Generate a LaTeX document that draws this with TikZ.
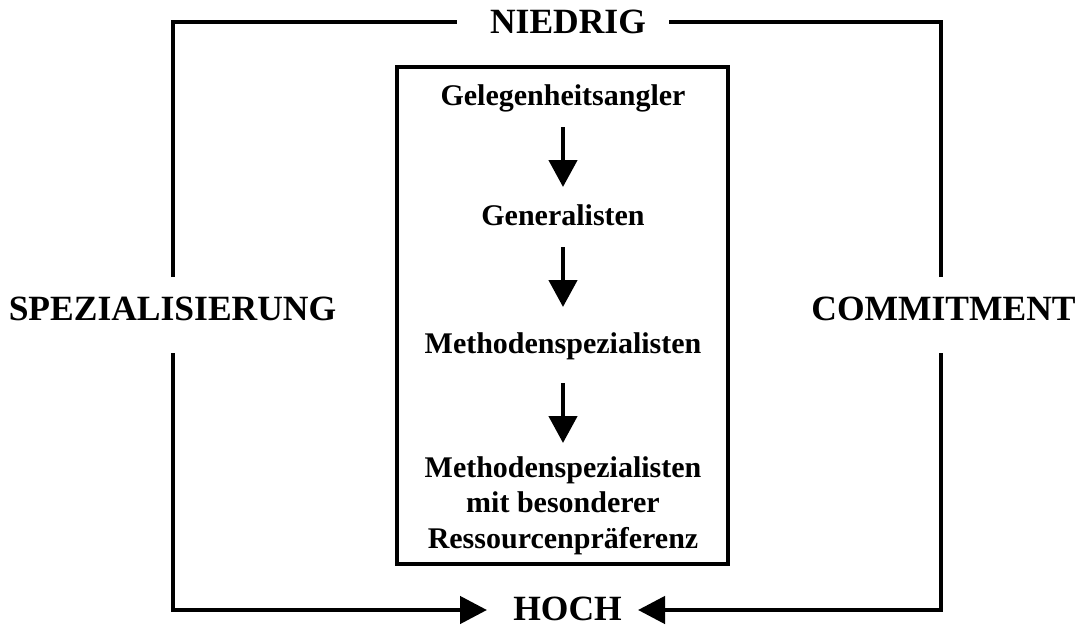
\documentclass[tikz,border=0pt]{standalone}
\usepackage{fontspec}
\setmainfont{Liberation Serif}
\usetikzlibrary{arrows.meta}
\tikzset{
  frameline/.style={line width=4.6pt, line join=miter},
  bigarrow/.style={frameline, -{Triangle[length=27pt,width=27pt]}},
  innerarrow/.style={line width=4.6pt, -{Triangle[length=27pt,width=28pt]}},
  outerlabel/.style={font=\fontsize{35.5}{40}\selectfont\bfseries, inner sep=0pt, anchor=base},
  innerlabel/.style={font=\fontsize{30}{35.5}\selectfont\bfseries, inner sep=0pt, anchor=base},
}
\begin{document}
\begin{tikzpicture}[x=1pt,y=-1pt]
\useasboundingbox (0,0) rectangle (1084,626);
% inner box
\draw[line width=3.2pt] (397,67) rectangle (728,564);
% outer labels
\node[outerlabel] (niedrig) at (568,34) {NIEDRIG};
\node[outerlabel] (hoch) at (567.5,620) {HOCH};
\node[outerlabel] (spez) at (172.5,320) {SPEZIALISIERUNG};
\node[outerlabel] (comm) at (943.5,320) {COMMITMENT};
% frame coordinates
\coordinate (lt1) at (173,277);
\coordinate (ltc) at (173,22);
\coordinate (lte) at (457,22);
\coordinate (lb1) at (173,353);
\coordinate (lbc) at (173,610);
\coordinate (lbe) at (487,610);
\coordinate (rt1) at (941,277);
\coordinate (rtc) at (941,22);
\coordinate (rte) at (669,22);
\coordinate (rb1) at (941,353);
\coordinate (rbc) at (941,610);
\coordinate (rbe) at (638,610);
\draw[frameline] (lt1) -- (ltc) -- (lte);
\draw[frameline] (rt1) -- (rtc) -- (rte);
\draw[bigarrow] (lb1) -- (lbc) -- (lbe);
\draw[bigarrow] (rb1) -- (rbc) -- (rbe);
% inner labels
\node[innerlabel] (g1) at (563,105) {Gelegenheitsangler};
\node[innerlabel] (g2) at (563,225) {Generalisten};
\node[innerlabel] (g3) at (563,353) {Methodenspezialisten};
\node[innerlabel, align=center, anchor=base] (g4) at (563,548) {Methodenspezialisten\\mit besonderer\\Ressourcenpräferenz};
% inner arrows
\coordinate (a1s) at (563,127); \coordinate (a1e) at (563,187);
\coordinate (a2s) at (563,247); \coordinate (a2e) at (563,307);
\coordinate (a3s) at (563,383); \coordinate (a3e) at (563,443);
\draw[innerarrow] (a1s) -- (a1e);
\draw[innerarrow] (a2s) -- (a2e);
\draw[innerarrow] (a3s) -- (a3e);
\end{tikzpicture}
\end{document}
